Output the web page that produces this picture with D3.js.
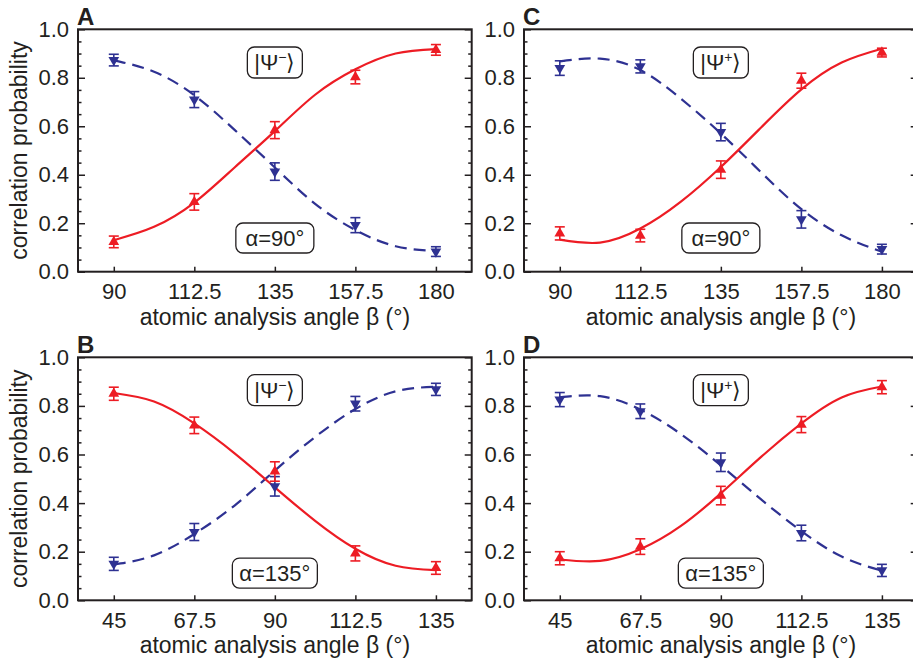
<!DOCTYPE html>
<html>
<head>
<meta charset="utf-8">
<script src="https://cdn.jsdelivr.net/npm/d3@7"></script>
<style>
  body { margin: 0; background: #fff; }
  svg { display: block; font-family: "Liberation Sans", Arial, Helvetica, sans-serif; }
</style>
</head>
<body>
<svg id="chart" width="913" height="662"></svg>
<script>
// analysis angles (deg)
const betaTop = [90, 112.5, 135, 157.5, 180];
const betaBottom = [45, 67.5, 90, 112.5, 135];
const fitBetaTop = [90, 101.25, 112.5, 123.75, 135, 146.25, 157.5, 168.75, 180];
const fitBetaBottom = [45, 56.25, 67.5, 78.75, 90, 101.25, 112.5, 123.75, 135];
const yTicks = [0, 0.2, 0.4, 0.6, 0.8, 1.0];

// A : |psi-> , alpha = 90
const redA = [0.123, 0.288, 0.584, 0.803, 0.915];
const redAErr = [0.024, 0.034, 0.035, 0.028, 0.022];
const blueA = [0.873, 0.71, 0.413, 0.192, 0.083];
const blueAErr = [0.024, 0.033, 0.036, 0.031, 0.02];
const fitRedA = [0.13, 0.185, 0.285, 0.43, 0.58, 0.73, 0.835, 0.9, 0.918];
const fitBlueA = [0.872, 0.825, 0.728, 0.585, 0.43, 0.28, 0.172, 0.105, 0.085];

// B : |psi-> , alpha = 135
const redB = [0.85, 0.72, 0.53, 0.193, 0.133];
const redBErr = [0.027, 0.034, 0.04, 0.031, 0.026];
const blueB = [0.15, 0.281, 0.469, 0.809, 0.868];
const blueBErr = [0.027, 0.035, 0.04, 0.03, 0.025];
const fitRedB = [0.853, 0.818, 0.728, 0.605, 0.465, 0.327, 0.212, 0.142, 0.124];
const fitBlueB = [0.147, 0.185, 0.273, 0.39, 0.534, 0.672, 0.787, 0.86, 0.879];

// C : |psi+> , alpha = 90
const redC = [0.158, 0.149, 0.421, 0.788, 0.904];
const redCErr = [0.027, 0.026, 0.036, 0.031, 0.018];
const blueC = [0.84, 0.847, 0.576, 0.216, 0.093];
const blueCErr = [0.03, 0.027, 0.036, 0.036, 0.02];
const fitRedC = [0.132, 0.12, 0.178, 0.288, 0.432, 0.595, 0.752, 0.863, 0.92];
const fitBlueC = [0.868, 0.879, 0.832, 0.715, 0.57, 0.41, 0.258, 0.15, 0.082];

// D : |psi+> , alpha = 135
const redD = [0.173, 0.221, 0.431, 0.723, 0.877];
const redDErr = [0.027, 0.032, 0.038, 0.033, 0.027];
const blueD = [0.826, 0.778, 0.568, 0.277, 0.123];
const blueDErr = [0.029, 0.03, 0.038, 0.032, 0.025];
const fitRedD = [0.168, 0.162, 0.21, 0.305, 0.44, 0.59, 0.728, 0.835, 0.88];
const fitBlueD = [0.835, 0.84, 0.785, 0.685, 0.555, 0.415, 0.285, 0.18, 0.122];

const ink = "#231f20", red = "#ed1c24", blue = "#2e3192";

const panels = [
  {id: "A", beta: betaTop, fit: fitBetaTop, red: redA, redErr: redAErr, blue: blueA, blueErr: blueAErr,
   fitRed: fitRedA, fitBlue: fitBlueA, sign: "−", alpha: "α=90°", dom: [80, 190],
   left: 78, right: 471.7, top: 29.3, bottom: 271.7, yTitle: true, ketY: 0.863, alphaY: 0.139, alphaW: 78},
  {id: "B", beta: betaBottom, fit: fitBetaBottom, red: redB, redErr: redBErr, blue: blueB, blueErr: blueBErr,
   fitRed: fitRedB, fitBlue: fitBlueB, sign: "−", alpha: "α=135°", dom: [35, 145],
   left: 78, right: 471.7, top: 357.3, bottom: 600.3, yTitle: true, ketY: 0.865, alphaY: 0.112, alphaW: 85},
  {id: "C", beta: betaTop, fit: fitBetaTop, red: redC, redErr: redCErr, blue: blueC, blueErr: blueCErr,
   fitRed: fitRedC, fitBlue: fitBlueC, sign: "+", alpha: "α=90°", dom: [80, 190],
   left: 524, right: 917.7, top: 29.3, bottom: 271.7, yTitle: false, ketY: 0.863, alphaY: 0.139, alphaW: 78},
  {id: "D", beta: betaBottom, fit: fitBetaBottom, red: redD, redErr: redDErr, blue: blueD, blueErr: blueDErr,
   fitRed: fitRedD, fitBlue: fitBlueD, sign: "+", alpha: "α=135°", dom: [35, 145],
   left: 524, right: 917.7, top: 357.3, bottom: 600.3, yTitle: false, ketY: 0.865, alphaY: 0.112, alphaW: 85}
];

const svg = d3.select("#chart");

function styleAxis(a) {
  a.attr("font-size", null).attr("font-family", null);
  a.select(".domain").remove();
  a.selectAll(".tick line").attr("stroke", ink).attr("stroke-width", 1.5);
  a.selectAll(".tick text").attr("fill", ink).style("font-size", "22px");
}

function roundBox(g, cx, cy, w, h) {
  g.append("rect")
    .attr("x", cx - w / 2).attr("y", cy - h / 2)
    .attr("width", w).attr("height", h)
    .attr("rx", 7).attr("ry", 7)
    .attr("fill", "#fff").attr("stroke", ink).attr("stroke-width", 1.3);
}

panels.forEach(p => {
  const g = svg.append("g");
  const x = d3.scaleLinear().domain(p.dom).range([p.left, p.right]);
  const y = d3.scaleLinear().domain([0, 1]).range([p.bottom, p.top]);
  const minor = d3.range(0, 1.0001, 0.05).filter(v => Math.abs(v * 5 - Math.round(v * 5)) > 1e-6);

  // y axis left (labels + inward ticks)
  g.append("g").attr("transform", `translate(${p.left},0)`)
    .call(d3.axisLeft(y).tickValues(yTicks).tickFormat(d3.format(".1f"))
      .tickSizeInner(-7).tickSizeOuter(0).tickPadding(9))
    .call(styleAxis);
  g.append("g").attr("transform", `translate(${p.left},0)`)
    .call(d3.axisLeft(y).tickValues(minor).tickFormat("").tickSizeInner(-3.5).tickSizeOuter(0))
    .call(styleAxis);
  // right axis ticks
  g.append("g").attr("transform", `translate(${p.right},0)`)
    .call(d3.axisRight(y).tickValues(yTicks).tickFormat("").tickSizeInner(-7).tickSizeOuter(0))
    .call(styleAxis);
  g.append("g").attr("transform", `translate(${p.right},0)`)
    .call(d3.axisRight(y).tickValues(minor).tickFormat("").tickSizeInner(-3.5).tickSizeOuter(0))
    .call(styleAxis);
  // x axis
  g.append("g").attr("transform", `translate(0,${p.bottom})`)
    .call(d3.axisBottom(x).tickValues(p.beta).tickFormat(d => String(d))
      .tickSizeInner(-5).tickSizeOuter(0).tickPadding(12))
    .call(styleAxis);

  // frame
  g.append("rect")
    .attr("x", p.left).attr("y", p.top)
    .attr("width", p.right - p.left).attr("height", p.bottom - p.top)
    .attr("fill", "none").attr("stroke", ink).attr("stroke-width", 2);

  // fit curves
  const line = d3.line().x(d => x(d[0])).y(d => y(d[1])).curve(d3.curveNatural);
  g.append("path").datum(d3.zip(p.fit, p.fitBlue)).attr("d", line)
    .attr("fill", "none").attr("stroke", blue).attr("stroke-width", 2.2)
    .attr("stroke-dasharray", "12,7");
  g.append("path").datum(d3.zip(p.fit, p.fitRed)).attr("d", line)
    .attr("fill", "none").attr("stroke", red).attr("stroke-width", 2.2);

  // error bars + markers
  const series = [
    {vals: p.blue, err: p.blueErr, color: blue, rot: 180},
    {vals: p.red, err: p.redErr, color: red, rot: 0}
  ];
  series.forEach(s => {
    const pts = p.beta.map((b, i) => ({b, v: s.vals[i], e: s.err[i]}));
    const eb = g.append("g").attr("stroke", s.color).attr("stroke-width", 1.6).attr("fill", "none");
    pts.forEach(d => {
      const cx = x(d.b), y1 = y(d.v + d.e), y2 = y(d.v - d.e);
      eb.append("line").attr("x1", cx).attr("x2", cx).attr("y1", y1).attr("y2", y2);
      eb.append("line").attr("x1", cx - 5).attr("x2", cx + 5).attr("y1", y1).attr("y2", y1);
      eb.append("line").attr("x1", cx - 5).attr("x2", cx + 5).attr("y1", y2).attr("y2", y2);
    });
    g.append("g").selectAll("path").data(pts).join("path")
      .attr("d", d3.symbol(d3.symbolTriangle, 50)())
      .attr("transform", d => `translate(${x(d.b)},${y(d.v)}) rotate(${s.rot})`)
      .attr("fill", s.color);
  });

  // annotation boxes
  const mid = x((p.beta[0] + p.beta[4]) / 2);
  roundBox(g, mid, y(p.ketY), 55, 31);
  const ket = g.append("text").attr("x", mid).attr("y", y(p.ketY)).attr("dy", "0.36em")
    .attr("text-anchor", "middle").attr("fill", ink).style("font-size", "22px");
  ket.append("tspan").text("|Ψ");
  ket.append("tspan").attr("dy", -8).style("font-size", "14px").text(p.sign);
  ket.append("tspan").attr("dy", 8).text("⟩");
  roundBox(g, mid, y(p.alphaY), p.alphaW, 30);
  g.append("text").attr("x", mid).attr("y", y(p.alphaY)).attr("dy", "0.36em")
    .attr("text-anchor", "middle").attr("fill", ink).style("font-size", "22px").text(p.alpha);

  // titles
  g.append("text")
    .attr("x", x((p.dom[0] + p.dom[1]) / 2)).attr("y", p.bottom + 53)
    .attr("text-anchor", "middle").attr("fill", ink).style("font-size", "23px")
    .text("atomic analysis angle β (°)");
  if (p.yTitle) {
    g.append("text")
      .attr("transform", `translate(27,${(p.top + p.bottom) / 2}) rotate(-90)`)
      .attr("text-anchor", "middle").attr("fill", ink).style("font-size", "23px")
      .text("correlation probability");
  }
  g.append("text").attr("x", p.left - 1).attr("y", p.top - 4)
    .attr("fill", ink).style("font-size", "24px").style("font-weight", "bold").text(p.id);
});
</script>
</body>
</html>
